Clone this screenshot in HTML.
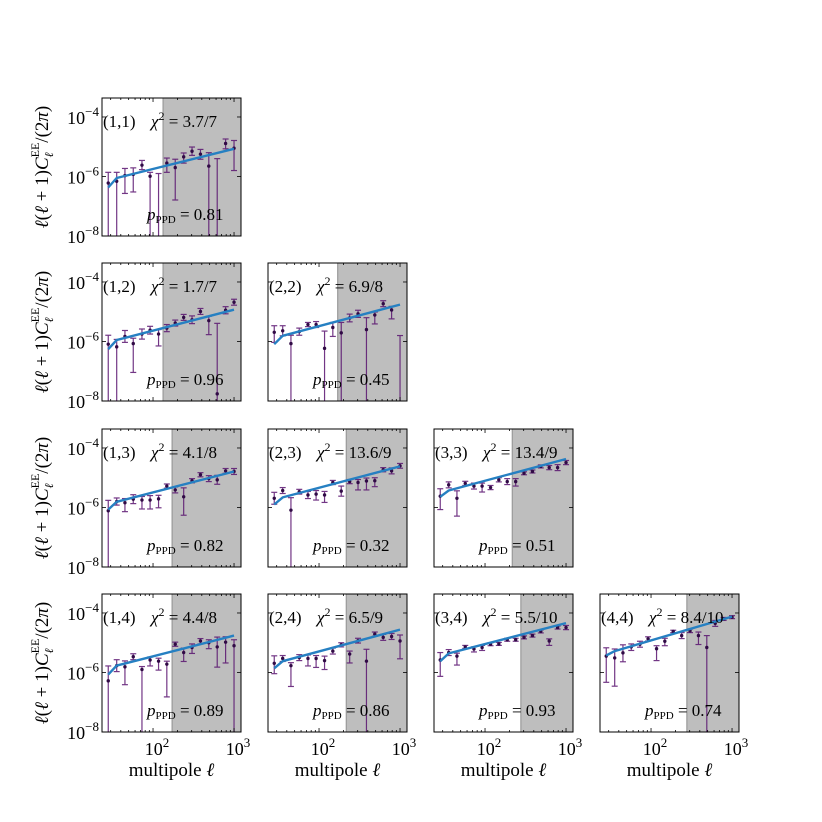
<!DOCTYPE html>
<html><head><meta charset="utf-8"><style>
html,body{margin:0;padding:0;background:#fff;}
svg{display:block;font-family:"Liberation Serif","DejaVu Serif",serif;}
</style></head><body>
<svg id="fig" width="822" height="822" viewBox="0 0 822 822"></svg>
<script>
// multipole bin centres
const ells=[28,35.6,45,57,73,92,117,148,188,239,303,385,488,620,787,1000];
// log10 of l(l+1)C_l/2pi per panel; errors in dex (up / down). -9 = off-axis below
const c11=[-6.22,-6.16,-5.97,-5.93,-5.62,-5.99,-8.5,-5.55,-5.70,-5.34,-5.15,-5.25,-5.65,-8.5,-4.89,-5.05];
const u11=[0.36,0.3,0.24,0.22,0.16,0.13,2.6,0.17,0.28,0.13,0.14,0.16,0.45,3.1,0.15,0.26];
const d11=[3,3,0.6,0.59,0.15,3,3,0.31,1.09,0.21,0.14,0.17,3,3,0.18,0.75];
const c12=[-6.09,-6.18,-5.83,-6.07,-5.75,-5.62,-5.75,-5.55,-5.38,-5.19,-5.27,-4.99,-5.30,-7.76,-4.95,-4.68];
const u12=[0.3,0.25,0.2,0.18,0.17,0.13,0.15,0.12,0.1,0.1,0.13,0.1,0.15,2.37,0.12,0.1];
const d12=[3,3,0.2,0.97,0.17,0.13,0.4,0.12,0.1,0.1,0.13,0.1,0.47,3,0.12,0.1];
const c22=[-5.69,-5.64,-6.07,-5.67,-5.43,-5.43,-6.23,-5.53,-5.71,-5.21,-5.07,-5.60,-5.11,-4.73,-4.94,-8.5];
const u22=[0.22,0.17,0.28,0.12,0.07,0.1,0.58,0.17,0.35,0.13,0.12,0.4,0.1,0.1,0.12,2.7];
const d22=[0.34,0.17,3,0.12,0.07,0.1,3,0.3,3,0.13,0.12,3,0.3,0.1,0.3,3];
const c13=[-6.11,-5.80,-5.84,-5.72,-5.75,-5.75,-5.71,-5.28,-5.41,-5.64,-5.10,-4.90,-5.03,-5.07,-4.77,-4.79];
const u13=[0.35,0.12,0.14,0.15,0.12,0.15,0.12,0.07,0.1,0.3,0.07,0.07,0.1,0.15,0.08,0.1];
const d13=[3,0.12,0.3,0.15,0.3,0.3,0.3,0.07,0.1,0.62,0.07,0.07,0.1,0.15,0.08,0.1];
const c23=[-5.69,-5.43,-6.09,-5.47,-5.58,-5.55,-5.58,-5.16,-5.45,-5.13,-5.16,-5.11,-5.10,-4.73,-4.77,-4.60];
const u23=[0.2,0.1,0.42,0.08,0.12,0.12,0.12,0.07,0.17,0.07,0.1,0.1,0.1,0.07,0.1,0.08];
const d23=[0.2,0.1,3,0.08,0.12,0.2,0.25,0.07,0.17,0.07,0.25,0.3,0.2,0.07,0.1,0.08];
const c33=[-5.62,-5.24,-5.69,-5.19,-5.28,-5.28,-5.33,-5.07,-5.13,-5.13,-4.85,-4.79,-4.62,-4.66,-4.66,-4.49];
const u33=[0.25,0.1,0.25,0.07,0.1,0.1,0.07,0.07,0.1,0.1,0.05,0.05,0.05,0.07,0.1,0.07];
const d33=[0.45,0.1,0.6,0.07,0.1,0.2,0.07,0.07,0.1,0.15,0.05,0.05,0.05,0.07,0.1,0.07];
const c14=[-6.28,-5.77,-5.81,-5.47,-5.90,-5.58,-5.62,-5.72,-5.05,-5.33,-5.16,-4.94,-5.00,-5.14,-4.98,-5.10];
const u14=[0.5,0.2,0.2,0.1,0.1,0.1,0.1,0.1,0.07,0.15,0.12,0.08,0.1,0.33,0.18,0.2];
const d14=[3,0.2,0.6,0.1,3,0.2,0.3,1.1,0.07,0.3,0.2,0.1,0.2,0.68,0.7,3];
const c24=[-5.69,-5.53,-5.77,-5.50,-5.53,-5.53,-5.60,-5.28,-5.07,-5.38,-4.93,-5.62,-4.71,-4.82,-4.79,-4.94];
const u24=[0.25,0.1,0.1,0.1,0.12,0.1,0.15,0.1,0.07,0.1,0.08,0.4,0.07,0.1,0.1,0.2];
const d24=[0.35,0.1,0.7,0.1,0.25,0.3,0.3,0.1,0.07,0.3,0.08,3,0.07,0.1,0.1,0.6];
const c34=[-5.58,-5.33,-5.45,-5.14,-5.21,-5.16,-5.05,-5.04,-4.90,-4.90,-4.82,-4.76,-4.62,-4.94,-4.49,-4.49];
const u34=[0.25,0.1,0.1,0.05,0.07,0.07,0.05,0.05,0.05,0.05,0.05,0.05,0.05,0.07,0.05,0.07];
const d34=[0.55,0.1,0.3,0.05,0.1,0.1,0.05,0.05,0.05,0.05,0.05,0.05,0.05,0.15,0.05,0.07];
const c44=[-5.45,-5.51,-5.34,-5.14,-5.05,-4.87,-5.20,-4.95,-4.62,-4.76,-4.60,-4.76,-5.16,-4.35,-4.20,-4.14];
const u44=[0.28,0.3,0.27,0.1,0.1,0.07,0.1,0.1,0.04,0.1,0.06,0.12,0.4,0.1,0.05,0.05];
const d44=[0.88,0.95,0.3,0.12,0.1,0.07,0.4,0.15,0.04,0.1,0.06,0.3,3,0.1,0.05,0.05];
// model curve vertices (log10) at ells[0], ells[1], ells[15]
const modelIdx=[0,1,15];
const m11=[-6.37,-6.05,-5.07], m12=[-6.26,-5.95,-4.93], m22=[-6.09,-5.81,-4.76];
const m13=[-6.07,-5.81,-4.79], m23=[-5.90,-5.66,-4.62], m33=[-5.64,-5.43,-4.37];
const m14=[-6.07,-5.77,-4.76], m24=[-5.86,-5.62,-4.56], m34=[-5.62,-5.36,-4.34], m44=[-5.43,-5.28,-4.12];
const chi2=["3.7/7","1.7/7","6.9/8","4.1/8","13.6/9","13.4/9","4.4/8","6.5/9","5.5/10","8.4/10"];
const ppd=["0.81","0.96","0.45","0.82","0.32","0.51","0.89","0.86","0.93","0.74"];
const shadeStart=[133,133,170,172,217,217,172,217,277,277];
const pairs=[[1,1],[1,2],[2,2],[1,3],[2,3],[3,3],[1,4],[2,4],[3,4],[4,4]];
const vals=[c11,c12,c22,c13,c23,c33,c14,c24,c34,c44];
const ups=[u11,u12,u22,u13,u23,u33,u14,u24,u34,u44];
const dns=[d11,d12,d22,d13,d23,d33,d14,d24,d34,d44];
const models=[m11,m12,m22,m13,m23,m33,m14,m24,m34,m44];

const NS="http://www.w3.org/2000/svg";
const svg=document.getElementById('fig');
function mk(tag,attrs,parent){const e=document.createElementNS(NS,tag);for(const k in attrs)e.setAttribute(k,attrs[k]);(parent||svg).appendChild(e);return e;}
const W=139,H=138,colLeft=[102,268,434,600],rowTop=[98,263,429,594];
const XMIN=1.370,XMAX=3.086,YMAX=-3.362,YMIN=-8.0;

pairs.forEach((p,k)=>{
  const col=p[0]-1,row=p[1]-1,L=colLeft[col],T=rowTop[row];
  const X=l=>L+(Math.log10(l)-XMIN)/(XMAX-XMIN)*W;
  const Y=v=>T+(YMAX-v)/(YMAX-YMIN)*H;
  const g=mk('g',{});
  
  
  const cid='clip'+k;
  const cp=mk('clipPath',{id:cid},g);mk('rect',{x:L,y:T,width:W,height:H},cp);
  const sx=X(shadeStart[k]);
  const sh=mk('rect',{x:sx,y:T,width:L+W-sx,height:H,fill:'#bebebe'},g);
  
  
  mk('line',{x1:sx,y1:T,x2:sx,y2:T+H,stroke:'#9a9a9a','stroke-width':1.2},g);
  const inner=mk('g',{'clip-path':'url(#'+cid+')'},g);
  const v=vals[k],u=ups[k],d=dns[k];
  for(let i=0;i<ells.length;i++){
    const x=X(ells[i]),yc=Y(v[i]),yt=Y(v[i]+u[i]),yb=Y(v[i]-d[i]);
    const eb=mk('g',{stroke:'#5a1470','stroke-width':1.2,opacity:0.85},inner);
    
    
    mk('line',{x1:x,y1:yt,x2:x,y2:yb},eb);
    mk('line',{x1:x-3,y1:yt,x2:x+3,y2:yt},eb);
    mk('line',{x1:x-3,y1:yb,x2:x+3,y2:yb},eb);
    const pt=mk('circle',{cx:x,cy:yc,r:1.7,fill:'#300a45'},inner);
    
    
  }
  const m=models[k];
  const pts=modelIdx.map((ii,j)=>X(ells[ii]).toFixed(1)+','+Y(m[j]).toFixed(1)).join(' ');
  const ml=mk('polyline',{points:pts,fill:'none',stroke:'#2680c2','stroke-width':2.4,'stroke-linejoin':'round'},inner);
  
  
  mk('rect',{x:L,y:T,width:W,height:H,fill:'none',stroke:'#000','stroke-width':1},g);
  for(let dec=1;dec<=3;dec++)for(let m2=1;m2<=9;m2++){
    const l=m2*Math.pow(10,dec);const lg=Math.log10(l);if(lg<XMIN||lg>XMAX)continue;
    const x=X(l),len=(m2===1)?4:2;
    mk('line',{x1:x,y1:T+H,x2:x,y2:T+H-len,stroke:'#000','stroke-width':0.8},g);
    mk('line',{x1:x,y1:T,x2:x,y2:T+len,stroke:'#000','stroke-width':0.8},g);
  }
  [-4,-6,-8].forEach(e=>{const y=Y(e);
    mk('line',{x1:L,y1:y,x2:L+4,y2:y,stroke:'#000','stroke-width':0.8},g);
    mk('line',{x1:L+W,y1:y,x2:L+W-4,y2:y,stroke:'#000','stroke-width':0.8},g);});
  const lab=mk('text',{x:L+1,y:T+29,'font-size':17},g);lab.textContent='('+p[0]+','+p[1]+')';
  
  
  const ch=mk('text',{x:L+49,y:T+29,'font-size':17},g);
  
  
  ch.innerHTML='<tspan font-style="italic">χ</tspan><tspan font-size="12" dy="-7">2</tspan><tspan dy="7"> = '+chi2[k]+'</tspan>';
  const pp=mk('text',{x:L+45,y:T+122,'font-size':17},g);
  
  
  pp.innerHTML='<tspan font-style="italic">p</tspan><tspan font-size="11" dy="3">PPD</tspan><tspan dy="-3"> = '+ppd[k]+'</tspan>';
  if(col===0){
    [-4,-6,-8].forEach(e=>{const t=mk('text',{x:L-3,y:Y(e)+7,'font-size':18,'text-anchor':'end'},g);
      
      
      t.innerHTML='10<tspan font-size="13" dy="-8">−'+(-e)+'</tspan>';});
    const yl=mk('text',{x:0,y:0,'font-size':19,'text-anchor':'middle',transform:'translate('+(L-54)+','+(T+H/2)+') rotate(-90)'},g);
    
    
    yl.innerHTML='<tspan font-style="italic">ℓ</tspan>(<tspan font-style="italic">ℓ</tspan> + 1)<tspan font-style="italic">C</tspan><tspan font-size="12" dy="5" font-style="italic">ℓ</tspan><tspan font-size="12" dy="-14" dx="-5">EE</tspan><tspan dy="9">/(2</tspan><tspan font-style="italic">π</tspan>)';
  }
  if(row===3){
    [2,3].forEach(e=>{const t=mk('text',{x:X(Math.pow(10,e))+4,y:T+H+23,'font-size':18,'text-anchor':'middle'},g);
      
      
      t.innerHTML='10<tspan font-size="13" dy="-8">'+e+'</tspan>';});
    const xl=mk('text',{x:L+W/2,y:T+H+44,'font-size':19,'text-anchor':'middle'},g);
    
    
    xl.innerHTML='multipole <tspan font-style="italic">ℓ</tspan>';
  }
});
</script>
</body></html>
